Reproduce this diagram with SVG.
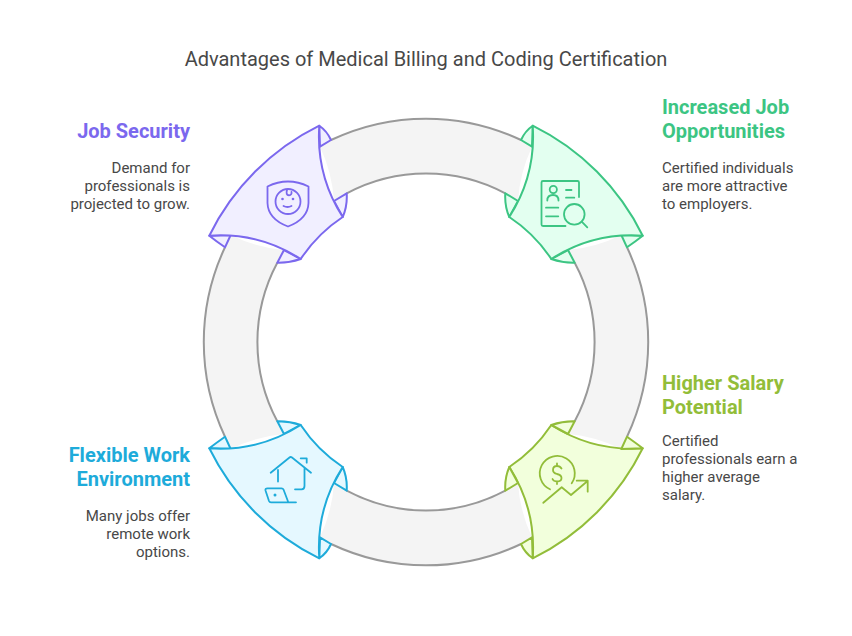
<svg xmlns="http://www.w3.org/2000/svg" width="852" height="636" viewBox="0 0 852 636">
<style>
text{font-family:"Roboto","Liberation Sans",sans-serif}
.t{font-size:20px;fill:#484848}
.h{font-size:20px;font-weight:700}
.b{font-size:15px;fill:#484848}
.e{text-anchor:end}
.rf{fill:#f4f4f4;stroke:none}
.rl{fill:none;stroke:#999;stroke-width:2}
.n{stroke-width:2;stroke-linejoin:round}
.i{fill:none;stroke-width:1.8;stroke-linecap:round;stroke-linejoin:round}
.p{stroke:#7b68ee;fill:#f1efff}.g{stroke:#3cc583;fill:#e3fff0}.y{stroke:#92bd39;fill:#f2ffdc}.c{stroke:#1eabda;fill:#e5f8ff}
.ip{stroke:#7b68ee}.ig{stroke:#3cc583}.iy{stroke:#92bd39}.ic{stroke:#1eabda}
</style>
<rect width="852" height="636" fill="#fff"/>
<text class="t" x="426" y="66" text-anchor="middle">Advantages of Medical Billing and Coding Certification</text>
<g id="connectors">
<path class="rf" d="M331 140A222 222 0 0 1 521 140L532 146.7A150 150 0 0 0 518 201L505.3 193.3A168 168 0 0 0 346.7 193.3L334 201A150 150 0 0 0 320 146.7Z"/>
<path class="rl" d="M331 140A222 222 0 0 1 521 140M346.7 193.3A168 168 0 0 1 505.3 193.3"/>
<path class="rf" d="M331 544A222 222 0 0 0 521 544L532 537.3A150 150 0 0 1 518 483L505.3 490.7A168 168 0 0 1 346.7 490.7L334 483A150 150 0 0 1 320 537.3Z"/>
<path class="rl" d="M331 544A222 222 0 0 0 521 544M346.7 490.7A168 168 0 0 0 505.3 490.7"/>
<path class="rf" d="M225 247.3A222 222 0 0 0 225 436.7L230.7 449A150 150 0 0 1 284 434L277.3 421.3A168 168 0 0 1 277.3 262.7L284 250A150 150 0 0 1 230.7 235Z"/>
<path class="rl" d="M225 247.3A222 222 0 0 0 225 436.7M277.3 262.7A168 168 0 0 0 277.3 421.3"/>
<path class="rf" d="M627 247.3A222 222 0 0 1 627 436.7L621.3 449A150 150 0 0 0 568 434L574.7 421.3A168 168 0 0 0 574.7 262.7L568 250A150 150 0 0 0 621.3 235Z"/>
<path class="rl" d="M627 247.3A222 222 0 0 1 627 436.7M574.7 262.7A168 168 0 0 1 574.7 421.3"/>
</g>
<g id="node-job-security">
<path class="n p" d="M319.3 125.7Q327 131 331 140L320 146.7ZM342.7 217Q347.5 206 346.7 193.3L334 201ZM209.3 235.7Q216 241 225 247.3L230.7 235ZM300.7 259Q289 263 277.3 262.7L284 250Z"/>
<path class="n p" d="M319.3 125.7A241 241 0 0 0 209.3 235.7A150 150 0 0 1 300.7 259A150 150 0 0 1 342.7 217A150 150 0 0 1 319.3 125.700Z"/>
<path class="i ip" d="M267.500 186.500Q288 176.500 308.500 186.500V203Q308 219 288 226.500Q268 219 267.500 203Z"/>
<circle class="i ip" cx="288" cy="201.500" r="12.500"/>
<path class="i ip" d="M283.500 206Q287.500 208 291.500 206M287 190Q285.500 195 289 195.300Q292 195 291.500 192"/>
<circle cx="282.500" cy="199" r="1.300" fill="#7b68ee"/><circle cx="293" cy="199" r="1.300" fill="#7b68ee"/>
<text class="h e" x="190" y="138" fill="#7b68ee">Job Security</text>
<text class="b e"><tspan x="190" y="173">Demand for</tspan><tspan x="190" y="191">professionals is</tspan><tspan x="190" y="209">projected to grow.</tspan></text>
</g>
<g id="node-increased-job">
<path class="n g" d="M532.700 125.700Q525 131 521 140L532 146.700ZM509.300 217Q504.500 206 505.300 193.300L518 201ZM642.700 235.700Q636 241 627 247.300L621.300 235ZM551.300 259Q563 263 574.700 262.700L568 250Z"/>
<path class="n g" d="M532.700 125.700A241 241 0 0 1 642.700 235.700A150 150 0 0 0 551.300 259A150 150 0 0 0 509.300 217A150 150 0 0 0 532.700 125.700Z"/>
<path class="i ig" d="M565.500 226H543Q541.500 226 541.500 224.500V182.500Q541.500 181 543 181H577.500Q579 181 579 182.500V197"/>
<circle class="i ig" cx="553.300" cy="189.500" r="3.600"/>
<path class="i ig" d="M547.300 200.500Q547.300 195 553 195Q558.500 195 558.500 200.500M566 190h5.500M566 197.700h8.300M546 207.700h12.300M546 216.300h12.300"/>
<circle class="i ig" cx="574.300" cy="214.300" r="10.300"/>
<path class="i ig" d="M581.700 221.700L587.300 227.300"/>
<text class="h" x="662" y="114" fill="#3cc583">Increased Job</text>
<text class="h" x="662" y="138" fill="#3cc583">Opportunities</text>
<text class="b"><tspan x="662" y="173">Certified individuals</tspan><tspan x="662" y="191">are more attractive</tspan><tspan x="662" y="209">to employers.</tspan></text>
</g>
<g id="node-flexible-work">
<path class="n c" d="M319.300 558.300Q327 553 331 544L320 537.300ZM342.700 467Q347.500 478 346.700 490.700L334 483ZM209.300 448.300Q216 443 225 436.700L230.700 449ZM300.700 425Q289 421 277.300 421.300L284 434Z"/>
<path class="n c" d="M319.300 558.300A241 241 0 0 1 209.300 448.300A150 150 0 0 0 300.700 425A150 150 0 0 0 342.700 467A150 150 0 0 0 319.300 558.300Z"/>
<path class="i ic" d="M270.700 472.700L289.500 457.500Q290.700 456.500 292 457.500L311 472.700M278 470V481.500M304.500 468.500V486Q304.500 489.300 301.500 489.300H295M300.700 458.300H306.700V462.700"/>
<path class="i ic" d="M296 502.300H271Q269.500 502.300 269 501L265.500 490.500Q265 488.300 267.500 488.300H281.500Q283 488.300 283.500 489.500L288.300 502.300"/>
<circle cx="275" cy="495" r="1.500" fill="#1eabda"/>
<text class="h e" x="190" y="462" fill="#1eabda">Flexible Work</text>
<text class="h e" x="190" y="486" fill="#1eabda">Environment</text>
<text class="b e"><tspan x="190" y="521">Many jobs offer</tspan><tspan x="190" y="539">remote work</tspan><tspan x="190" y="557">options.</tspan></text>
</g>
<g id="node-higher-salary">
<path class="n y" d="M532.700 558.300A241 241 0 0 0 642.700 448.300A150 150 0 0 1 551.300 425A150 150 0 0 1 509.300 467A150 150 0 0 1 532.700 558.300Z"/>
<path class="n y" d="M532.700 558.300Q525 553 521 544L532 537.300ZM509.300 467Q504.500 478 505.300 490.700L518 483ZM642.700 448.300Q636 443 627 436.700L621.300 449ZM551.300 425Q563 421 574.700 421.300L568 434Z"/>
<path class="i iy" d="M550 489.300A17.500 17.500 0 1 1 571.700 483.300M543.300 502.800L561.700 487.300L571 495L587 481.500M576.700 480.700H587.700V491.700"/>
<path class="i iy" d="M561.500 468.500Q560 466 557 466Q553 466 553 470Q553 473 557 474Q561.500 475 561.500 478Q561.500 481.500 557 481.500Q553.500 481.500 552.500 479M557 463.500V466M557 481.500V484"/>
<text class="h" x="662" y="390" fill="#92bd39">Higher Salary</text>
<text class="h" x="662" y="414" fill="#92bd39">Potential</text>
<text class="b"><tspan x="662" y="446">Certified</tspan><tspan x="662" y="464">professionals earn a</tspan><tspan x="662" y="482">higher average</tspan><tspan x="662" y="500">salary.</tspan></text>
</g>
</svg>
